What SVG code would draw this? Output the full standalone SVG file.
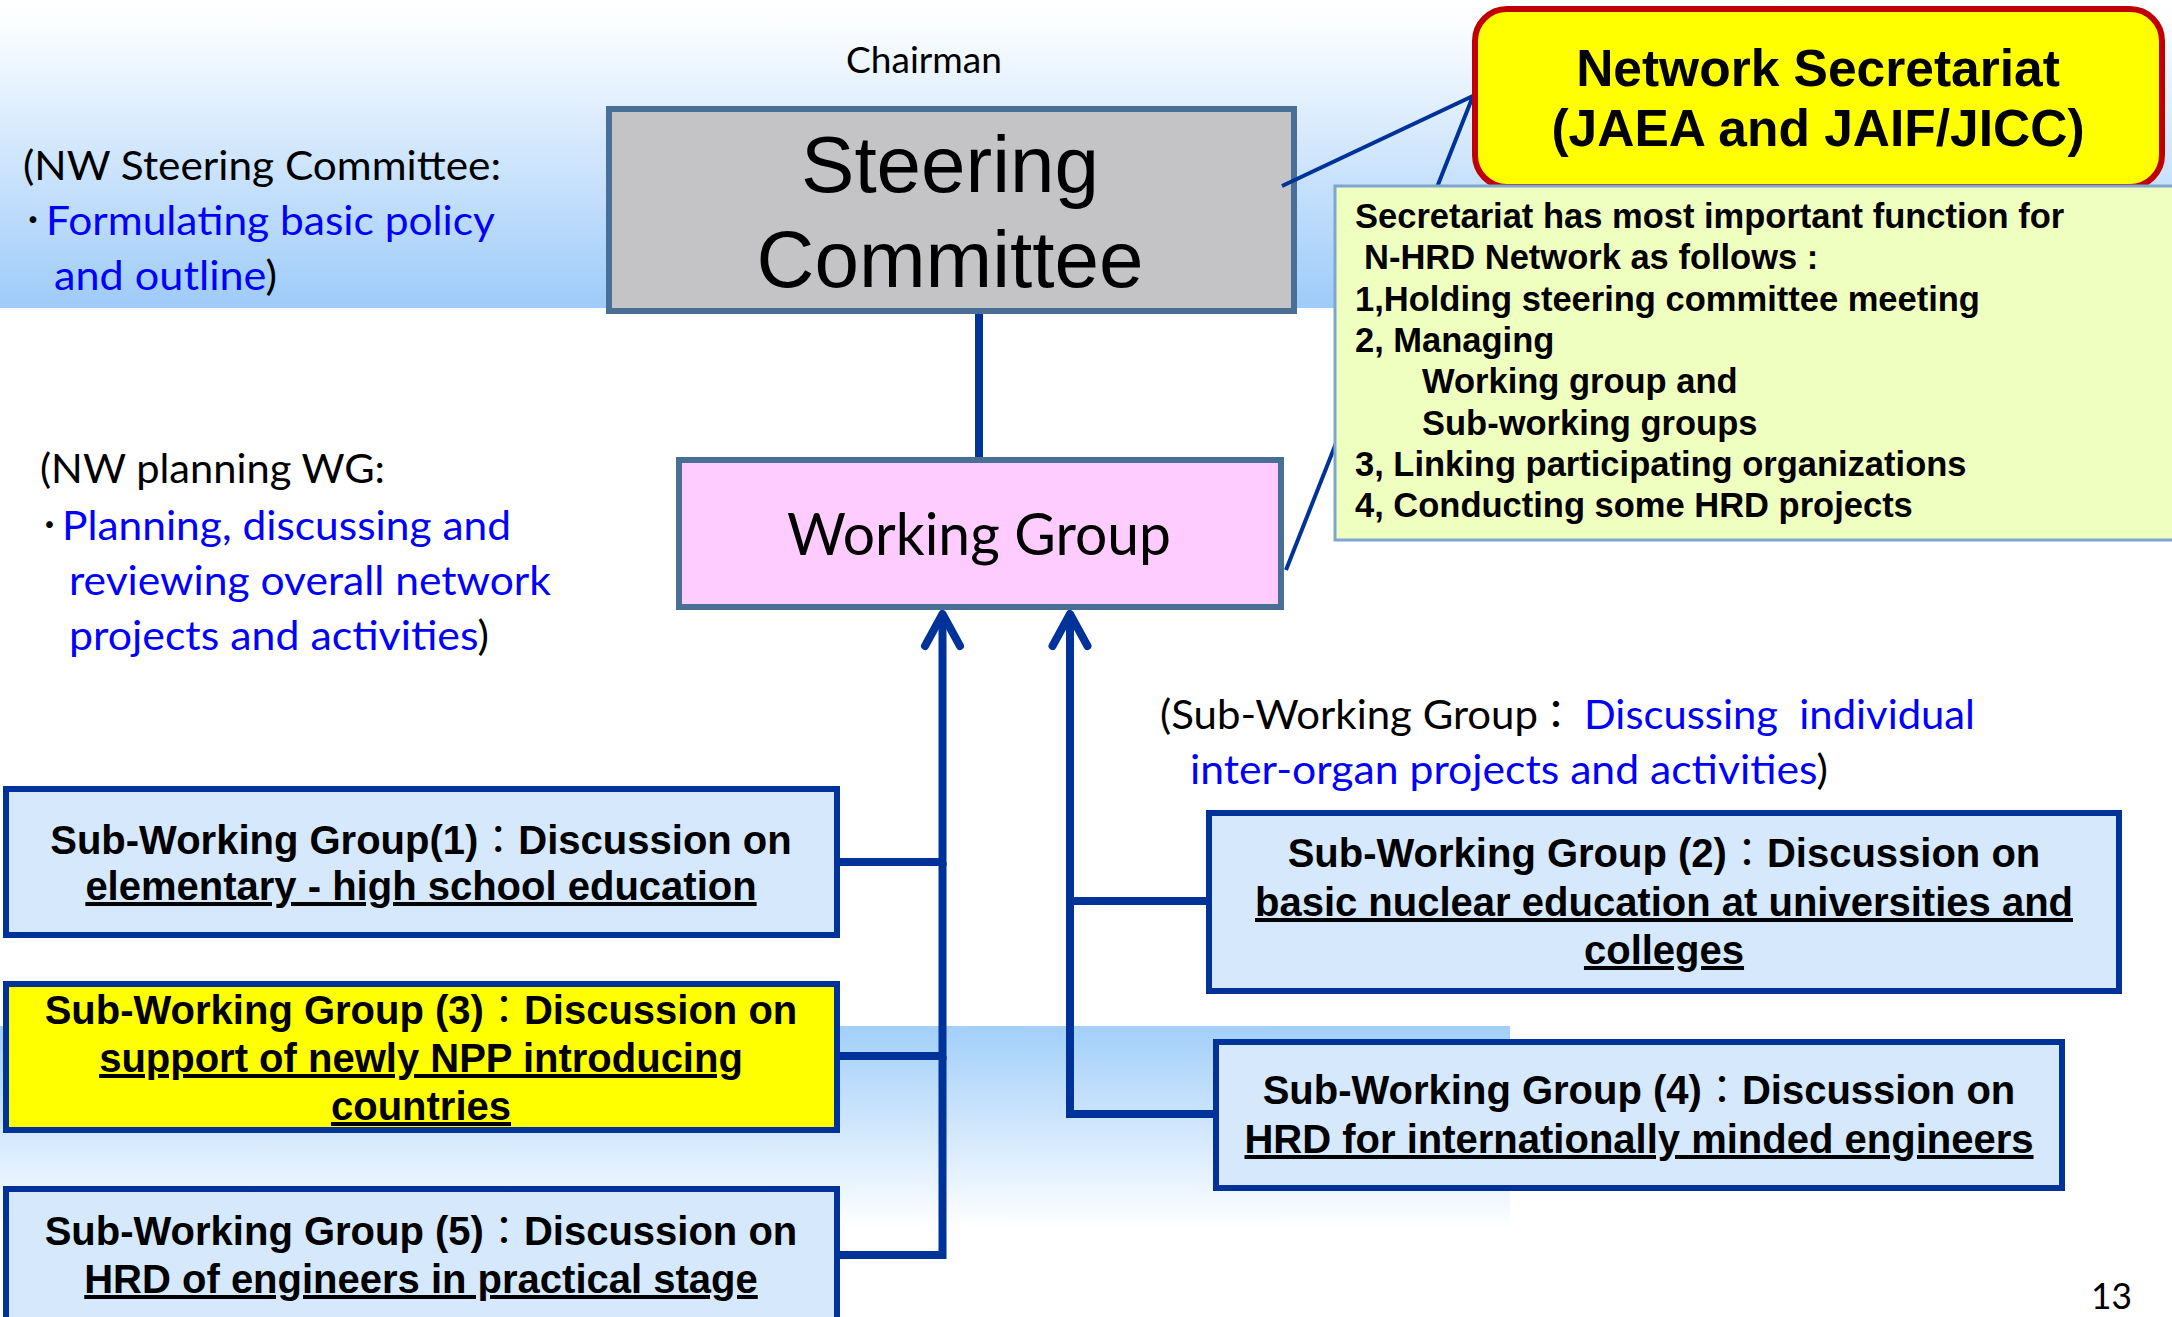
<svg xmlns="http://www.w3.org/2000/svg" width="2172" height="1317" viewBox="0 0 2172 1317">
<defs>
<linearGradient id="bgTop" x1="0" y1="0" x2="0" y2="1">
<stop offset="0" stop-color="#ffffff"/>
<stop offset="0.08" stop-color="#fbfdff"/>
<stop offset="1" stop-color="#9ecbf9"/>
</linearGradient>
<linearGradient id="bgBot" x1="0" y1="0" x2="0" y2="1">
<stop offset="0" stop-color="#a2cffa"/>
<stop offset="1" stop-color="#ffffff"/>
</linearGradient>
<marker id="arr" markerUnits="userSpaceOnUse" orient="auto" overflow="visible" refX="0" refY="0" markerWidth="40" markerHeight="40">
<path d="M-32,-17.5 L0,0 L-32,17.5" fill="none" stroke="#003399" stroke-width="8" stroke-linecap="round" stroke-linejoin="round"/>
</marker>
<style>
.cal{font-family:Lato,"Noto Sans CJK JP",sans-serif;font-size:40px;fill:#000;}
.blue{fill:#0000ff;}
.big{font-family:"Liberation Sans",Arial,sans-serif;font-size:80px;text-anchor:middle;fill:#000;}
.sec{font-family:"Liberation Sans",Arial,sans-serif;font-weight:bold;font-size:51.5px;text-anchor:middle;fill:#000;}
.note{font-family:"Liberation Sans",Arial,sans-serif;font-weight:bold;font-size:34.5px;fill:#000;}
.conn{fill:none;stroke:#003399;stroke-width:8;}
.call{fill:none;stroke:#003399;stroke-width:4;}
.swg{fill:#d5e8fc;stroke:#003399;stroke-width:6;}
.swgy{fill:#ffff00;stroke:#003399;stroke-width:6;}
.mgr{fill:#c4c4c6;stroke:#4a6f96;stroke-width:6;}
.swgt{font-family:"Liberation Sans",Arial,"Noto Sans CJK JP",sans-serif;font-weight:bold;font-size:40px;text-anchor:middle;fill:#000;}
.c{font-weight:normal;}
.u{text-decoration:underline;}
</style>
</defs>

<g id="background">
<rect x="0" y="0" width="2172" height="308" fill="url(#bgTop)"/>
<rect x="0" y="1026" width="1510" height="204" fill="url(#bgBot)"/>
</g>

<g id="annotations">
<text class="cal" x="846" y="73" style="font-size:36px" textLength="156" lengthAdjust="spacingAndGlyphs">Chairman</text>
<text class="cal" x="23" y="180" textLength="478" lengthAdjust="spacingAndGlyphs">(NW Steering Committee:</text>
<text class="cal" x="23" y="235">･</text>
<text class="cal blue" x="46" y="235" textLength="449" lengthAdjust="spacingAndGlyphs">Formulating basic policy</text>
<text class="cal" x="54" y="290" textLength="223" lengthAdjust="spacingAndGlyphs"><tspan class="blue">and outline</tspan>)</text>

<text class="cal" x="40" y="483" textLength="345" lengthAdjust="spacingAndGlyphs">(NW planning WG:</text>
<text class="cal" x="39.5" y="540">･</text>
<text class="cal blue" x="62" y="540" textLength="449" lengthAdjust="spacingAndGlyphs">Planning, discussing and</text>
<text class="cal blue" x="69" y="595" textLength="482" lengthAdjust="spacingAndGlyphs">reviewing overall network</text>
<text class="cal" x="69" y="650" textLength="420" lengthAdjust="spacingAndGlyphs"><tspan class="blue">projects and activities</tspan>)</text>

<text class="cal" y="729" style="white-space:pre"><tspan x="1160" textLength="378" lengthAdjust="spacingAndGlyphs">(Sub-Working Group</tspan><tspan x="1536">：</tspan><tspan x="1584" class="blue" textLength="391" lengthAdjust="spacingAndGlyphs">Discussing  individual</tspan></text>
<text class="cal" x="1190" y="784" textLength="638" lengthAdjust="spacingAndGlyphs"><tspan class="blue">inter-organ projects and activities</tspan>)</text>

<text class="cal" x="2091" y="1309" style="font-size:37px" textLength="41" lengthAdjust="spacingAndGlyphs">13</text>
</g>

<g id="connectors">
<path class="conn" d="M979,313 V458"/>
<path class="conn" d="M839,862 H942.5 V614" marker-end="url(#arr)"/>
<path class="conn" d="M839,1056 H942.5 V862"/>
<path class="conn" d="M839,1255 H942.5 V1056"/>
<path class="conn" d="M1209,901 H1070 V614" marker-end="url(#arr)"/>
<path class="conn" d="M1216,1114 H1070 V901"/>
</g>

<g id="steering-committee">
<rect class="mgr" x="609" y="109" width="685" height="202"/>
<text class="big" x="950" y="192">Steering</text>
<text class="big" x="950" y="287">Committee</text>
</g>

<g id="working-group">
<rect x="679" y="460" width="602" height="147" fill="#ffccff" stroke="#4a6f96" stroke-width="6"/>
<text class="cal" x="979" y="555" style="font-size:58px;text-anchor:middle" textLength="384" lengthAdjust="spacingAndGlyphs">Working Group</text>
</g>

<g id="callout-connector">
<path class="call" d="M1282,186 L1473,96 L1286,570"/>
</g>

<g id="network-secretariat">
<rect x="1475" y="9" width="687" height="178" rx="32" ry="32" fill="#ffff00" stroke="#c00000" stroke-width="6"/>
<text class="sec" x="1818" y="86">Network Secretariat</text>
<text class="sec" x="1818" y="146">(JAEA and JAIF/JICC)</text>
</g>

<g id="secretariat-functions">
<rect x="1335" y="186" width="850" height="354" fill="#efffc0" stroke="#7ea6d0" stroke-width="3"/>
<text class="note" x="1355" y="228">Secretariat has most important function for</text>
<text class="note" x="1364" y="269.3">N-HRD Network as follows :</text>
<text class="note" x="1355" y="310.6">1,Holding steering committee meeting</text>
<text class="note" x="1355" y="351.9">2, Managing</text>
<text class="note" x="1422" y="393.2">Working group and</text>
<text class="note" x="1422" y="434.5">Sub-working groups</text>
<text class="note" x="1355" y="475.8">3, Linking participating organizations</text>
<text class="note" x="1355" y="517.1">4, Conducting some HRD projects</text>
</g>

<g id="swg1">
<rect class="swg" x="6" y="789" width="831" height="146"/>
<text class="swgt" x="421" y="854">Sub-Working Group(1)<tspan class="c">：</tspan>Discussion on</text>
<text class="swgt u" x="421" y="900">elementary - high school education</text>
</g>

<g id="swg3">
<rect class="swgy" x="6" y="984" width="831" height="146"/>
<text class="swgt" x="421" y="1024">Sub-Working Group (3)<tspan class="c">：</tspan>Discussion on</text>
<text class="swgt u" x="421" y="1072">support of newly NPP introducing</text>
<text class="swgt u" x="421" y="1120">countries</text>
</g>

<g id="swg5">
<rect class="swg" x="6" y="1189" width="831" height="145"/>
<text class="swgt" x="421" y="1245">Sub-Working Group (5)<tspan class="c">：</tspan>Discussion on</text>
<text class="swgt u" x="421" y="1293">HRD of engineers in practical stage</text>
</g>

<g id="swg2">
<rect class="swg" x="1209" y="813" width="910" height="178"/>
<text class="swgt" x="1664" y="867">Sub-Working Group (2)<tspan class="c">：</tspan>Discussion on</text>
<text class="swgt u" x="1664" y="916">basic nuclear education at universities and</text>
<text class="swgt u" x="1664" y="964">colleges</text>
</g>

<g id="swg4">
<rect class="swg" x="1216" y="1042" width="846" height="146"/>
<text class="swgt" x="1639" y="1104">Sub-Working Group (4)<tspan class="c">：</tspan>Discussion on</text>
<text class="swgt u" x="1639" y="1153">HRD for internationally minded engineers</text>
</g>
</svg>
